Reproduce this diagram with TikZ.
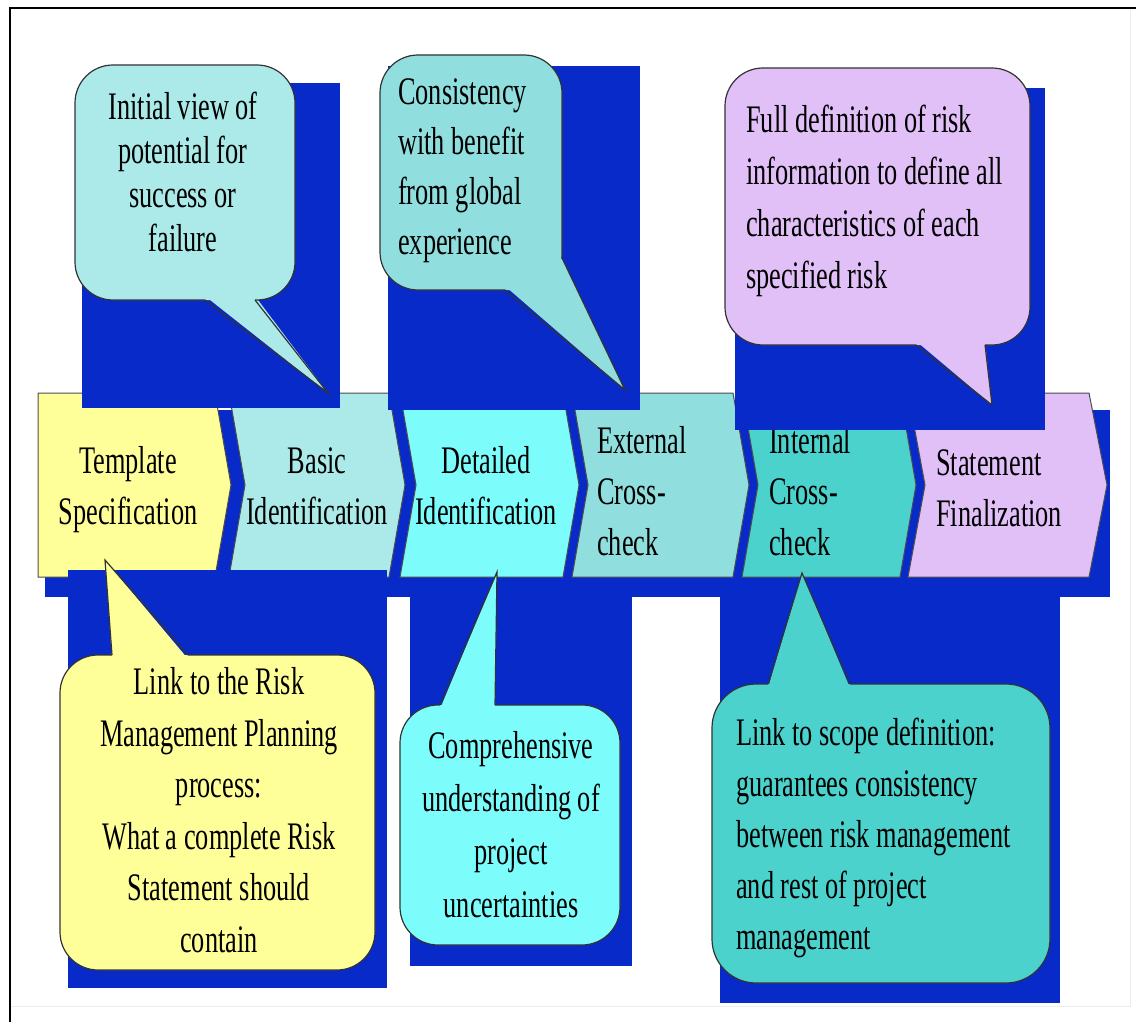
\documentclass[tikz,border=0pt]{standalone}
\usepackage{fontspec}
\setmainfont[FakeStretch=0.675]{Liberation Serif}
\pgfdeclarelayer{steplayer}
\pgfdeclarelayer{notelayer}
\pgfsetlayers{steplayer,notelayer,main}
\definecolor{shadowblue}{RGB}{8,42,200}
\definecolor{stepyellow}{RGB}{255,255,153}
\definecolor{steppale}{RGB}{172,234,234}
\definecolor{stepcyan}{RGB}{125,252,252}
\definecolor{stepteal}{RGB}{145,222,222}
\definecolor{stepturq}{RGB}{75,210,205}
\definecolor{steplilac}{RGB}{225,192,248}
\tikzstyle{none}=[inner sep=0pt]
\tikzstyle{stepshape}=[draw=black!70, line width=1pt]
\tikzstyle{noteedge}=[draw=black!80, line width=1.2pt, rounded corners=38pt]
\tikzstyle{stepcaption}=[inner sep=0pt, font=\fontsize{39}{51}\selectfont]
\tikzstyle{notecaption}=[inner sep=0pt, font=\fontsize{39}{52}\selectfont]

\begin{document}
\begin{tikzpicture}[x=1pt, y=-1pt]
	\useasboundingbox (0,0) rectangle (1136,1022);
	\begin{pgfonlayer}{steplayer}
		\fill[shadowblue] (45,410) rectangle (1110,597);
		\draw[stepshape, fill=stepyellow] (38,393) -- (215,393) -- (231,485) -- (215,577) -- (38,577) -- cycle;
		\draw[stepshape, fill=steppale] (229,393) -- (389,393) -- (405,485) -- (389,577) -- (229,577) -- (245,485) -- cycle;
		\draw[stepshape, fill=stepcyan] (400,393) -- (563,393) -- (579,485) -- (563,577) -- (400,577) -- (416,485) -- cycle;
		\draw[stepshape, fill=stepteal] (572,393) -- (733,393) -- (749,485) -- (733,577) -- (572,577) -- (588,485) -- cycle;
		\draw[stepshape, fill=stepturq] (742,393) -- (900,393) -- (916,485) -- (900,577) -- (742,577) -- (758,485) -- cycle;
		\draw[stepshape, fill=steplilac] (908,393) -- (1089,393) -- (1107,485) -- (1089,577) -- (908,577) -- (925,485) -- cycle;
		\node [stepcaption, align=center] (0) at (128,490) {Template\\Specification};
		\node [stepcaption, align=center] (1) at (317,486) {Basic\\Identification};
		\node [stepcaption, align=center] (2) at (486,486) {Detailed\\Identification};
		\node [stepcaption, align=left, anchor=west] (3) at (597,491) {External\\Cross-\\check};
		\node [stepcaption, align=left, anchor=west] (4) at (769,491) {Internal\\Cross-\\check};
		\node [stepcaption, align=left, anchor=west] (5) at (936,488) {Statement\\Finalization};
	\end{pgfonlayer}
	\begin{pgfonlayer}{notelayer}
		\node [style=none] (12) at (328,393) {};
		\node [style=none] (13) at (625,390) {};
		\node [style=none] (14) at (992,405) {};
		\node [style=none] (15) at (105,560) {};
		\node [style=none] (16) at (497,572) {};
		\node [style=none] (17) at (802,573) {};

		% top notes
		\fill[shadowblue] (82,83) rectangle (340,408);
		\fill[steppale, rounded corners=38pt] (75,65) rectangle (295,300);
		\fill[steppale] (205,296) -- (12.center) -- (255,296) -- cycle;
		\draw[noteedge] (255,300) -- (295,300) -- (295,65) -- (75,65) -- (75,300) -- (205,300);
		\draw[noteedge, sharp corners] (205,300) -- (12.center) -- (255,300);
		\node [notecaption, align=center, font=\fontsize{39}{44}\selectfont] (6) at (183,172) {Initial view of\\potential for\\success or\\failure};

		\fill[shadowblue] (388,66) rectangle (640,410);
		\fill[stepteal, rounded corners=38pt] (380,55) rectangle (562,290);
		\fill[stepteal] (505,286) -- (13.center) -- (562,258) -- (540,286) -- cycle;
		\draw[noteedge] (562,258) -- (562,55) -- (380,55) -- (380,290) -- (505,290);
		\draw[noteedge, sharp corners] (505,290) -- (13.center) -- (562,258);
		\node [notecaption, align=left, anchor=west, font=\fontsize{39}{50}\selectfont] (7) at (398,171) {Consistency\\with benefit\\from global\\experience};

		\fill[shadowblue] (735,88) rectangle (1045,430);
		\fill[steplilac, rounded corners=38pt] (725,68) rectangle (1030,345);
		\fill[steplilac] (916,341) -- (14.center) -- (985,341) -- cycle;
		\draw[noteedge] (985,345) -- (1030,345) -- (1030,68) -- (725,68) -- (725,345) -- (916,345);
		\draw[noteedge, sharp corners] (916,345) -- (14.center) -- (985,345);
		\node [notecaption, align=left, anchor=west] (8) at (746,201) {Full definition of risk\\information to define all\\characteristics of each\\specified risk};

		% bottom notes
		\fill[shadowblue] (68,570) rectangle (387,988);
		\fill[stepyellow, rounded corners=38pt] (60,655) rectangle (375,970);
		\fill[stepyellow] (112,659) -- (15.center) -- (188,659) -- cycle;
		\draw[noteedge] (188,655) -- (375,655) -- (375,970) -- (60,970) -- (60,655) -- (112,655);
		\draw[noteedge, sharp corners] (112,655) -- (15.center) -- (188,655);
		\node [notecaption, align=center, font=\fontsize{39}{51.5}\selectfont] (9) at (219,810) {Link to the Risk\\Management Planning\\process:\\What a complete Risk\\Statement should\\contain};

		\fill[shadowblue] (410,590) rectangle (632,966);
		\fill[stepcyan, rounded corners=38pt] (400,705) rectangle (620,945);
		\fill[stepcyan] (440,709) -- (16.center) -- (495,709) -- cycle;
		\draw[noteedge] (495,705) -- (620,705) -- (620,945) -- (400,945) -- (400,705) -- (440,705);
		\draw[noteedge, sharp corners] (440,705) -- (16.center) -- (495,705);
		\node [notecaption, align=center, font=\fontsize{39}{53}\selectfont] (10) at (511,825) {Comprehensive\\understanding of\\project\\uncertainties};

		\fill[shadowblue] (720,590) rectangle (1060,1003);
		\fill[stepturq, rounded corners=44pt] (712,684) rectangle (1050,983);
		\fill[stepturq] (768,688) -- (17.center) -- (850,688) -- cycle;
		\draw[noteedge, rounded corners=44pt] (850,684) -- (1050,684) -- (1050,983) -- (712,983) -- (712,684) -- (768,684);
		\draw[noteedge, sharp corners] (768,684) -- (17.center) -- (850,684);
		\node [notecaption, align=left, anchor=west, font=\fontsize{39}{51}\selectfont] (11) at (736,838) {Link to scope definition:\\guarantees consistency\\between risk management\\and rest of project\\management};
	\end{pgfonlayer}
	\draw[gray!15] (10,1006) -- (1130,1006) -- (1130,8);
	\draw[line width=1.5pt] (10,1022) -- (10,8) -- (1136,8);
\end{tikzpicture}
\end{document}
